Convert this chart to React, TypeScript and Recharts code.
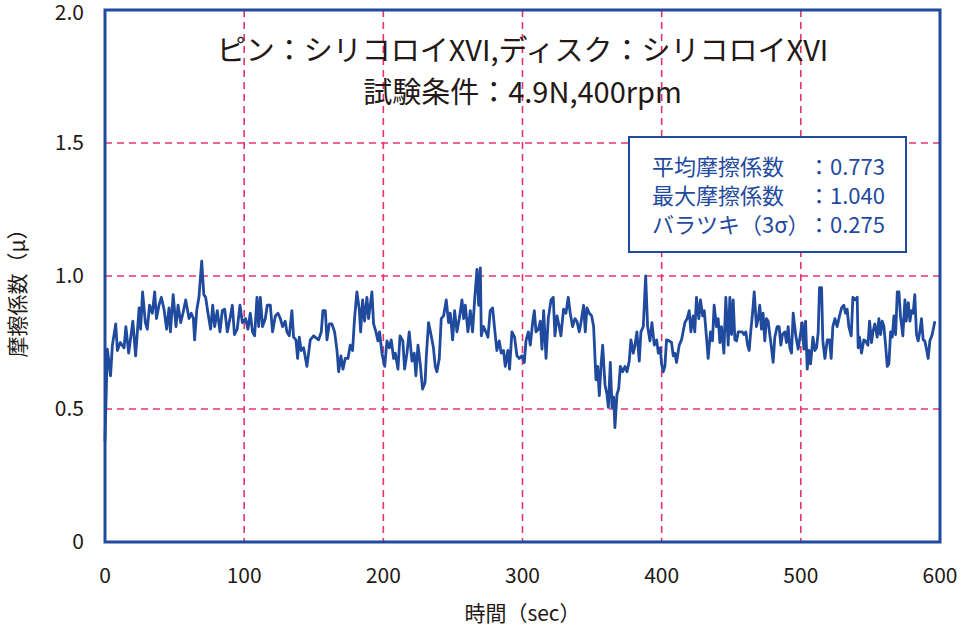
import { LineChart, Line, XAxis, YAxis, CartesianGrid, ReferenceArea, Label } from "recharts";

document.body.style.margin = "0";

const FONT = '"Noto Sans CJK JP", "Noto Sans", sans-serif';
const BLUE = "#1f4a9e";
const PINK = "#e8336d";
const INK = "#231815";

const titleLines = ["ピン：シリコロイXVI,ディスク：シリコロイXVI", "試験条件：4.9N,400rpm"];
const statLabels = ["平均摩擦係数", "最大摩擦係数", "バラツキ（3σ）"];
const statValues = ["0.773", "1.040", "0.275"];

const xTicks = [0, 100, 200, 300, 400, 500, 600];
const yTicks = [0, 0.5, 1.0, 1.5, 2.0];
const xGrid = [100, 200, 300, 400, 500];
const yGrid = [0.5, 1.0, 1.5];

// time (sec) and friction coefficient
const seconds = [
  0, 1.7, 4, 5.3, 7.7, 8.9, 11, 13.7, 15, 17, 20, 22, 24.5, 25.6, 27, 29, 30.4, 32, 34, 35.7,
  37, 38.8, 40.5, 42.4, 44.3, 46, 47, 49, 51, 52.5, 54.4, 56, 58, 60.4, 62, 63.5, 64.4, 65.9, 67.5, 69.5,
  71, 72.3, 74, 75.9, 77.4, 78.8, 80.7, 82.6, 84.3, 86, 87.9, 89.8, 91.5, 93, 95, 97, 98.7, 101, 102.7, 104.4,
  106, 107.5, 109.2, 110.4, 111.6, 113.2, 115.2, 116.6, 118.8, 120.4, 122.4, 124.3, 126, 127.6, 129.5, 130.7, 132.4, 134.3, 135.5, 137.2,
  138.4, 139.6, 141, 142.7, 145.1, 147.5, 149.9, 153.5, 155.4, 156.6, 158.3, 159.5, 161.2, 163, 165, 166.7, 167.9, 169.5, 171, 172.6,
  174.6, 176.2, 177.9, 179.3, 181, 182.7, 183.7, 185.1, 186.5, 188.2, 189.4, 191.8, 193, 194.7, 196.1, 197.3, 199, 201, 202.6, 204.3,
  205.7, 207.4, 208.6, 210.5, 212, 214, 215.3, 217, 218.6, 220.6, 222.2, 223.4, 224.9, 226.5, 228.2, 230, 230.9, 232.5, 234.4, 236,
  237.3, 238.5, 240.2, 241.6, 243.3, 245.2, 246.9, 248.1, 249.8, 251.2, 252.9, 254.6, 256.5, 257.7, 258.9, 260.8, 262.5, 264.1, 265.6, 267.3,
  268.5, 269.7, 270.4, 272, 273.7, 275.2, 276.8, 278.5, 280.4, 281.6, 283.3, 284.7, 286.4, 287.6, 289.5, 290.7, 292.4, 294.3, 296, 297.7,
  299.6, 301.3, 302.5, 304.2, 305.6, 307.3, 308.5, 309.7, 311.4, 312.8, 314, 315.2, 316.9, 318.5, 320.5, 322.1, 323.3, 324.8, 326.4, 327.6,
  329.5, 331.2, 332.9, 334.3, 336, 337.7, 339.1, 340.8, 342, 343.9, 345.1, 346.3, 348, 349.7, 351.1, 352.8, 354, 355.2, 356.4, 357.6,
  359.3, 360.7, 361.7, 363.1, 364.3, 365.5, 366.4, 367.9, 369.1, 370.3, 372, 373.6, 375.1, 376.7, 377.9, 379.6, 380.8, 382.2, 383.9, 385.1,
  386.8, 388.5, 389.9, 391.6, 393, 394.7, 396.4, 397.6, 399, 399.9, 401.1, 402.3, 403.5, 405.4, 407.1, 408.3, 409.5, 410.7, 412.6, 414.3,
  416.7, 418.3, 419.8, 421, 422.6, 423.8, 425, 426.7, 427.9, 429.4, 430.6, 432.2, 433.4, 435.1, 436.5, 437.7, 439.4, 440.6, 441.8, 443,
  444.7, 446.1, 447.8, 449, 450.2, 451.4, 452.6, 453.8, 455, 456.2, 457.9, 459.1, 460.5, 461.7, 462.9, 463.8, 465.3, 466.5, 468.1, 469.4,
  470.5, 471.7, 472.9, 474.1, 475.3, 476.5, 477.7, 478.9, 480.1, 481.3, 483, 484.4, 485.6, 486.8, 488.5, 489.7, 490.9, 492.1, 493.3, 494.5,
  496.4, 498.1, 501, 502.2, 503.4, 504.6, 505.8, 507, 508.7, 510.1, 511.3, 512.5, 513.4, 514.9, 515.8, 517.3, 519, 520.6, 521.8, 523,
  524.5, 526.1, 527.8, 529.3, 530.9, 532.1, 533.3, 534.5, 536.2, 537.4, 539.3, 540.5, 541.2, 542.2, 543.6, 545.3, 546.5, 548.2, 549.4, 550.8,
  551.8, 553.2, 554.9, 556.1, 557.3, 558.5, 559.7, 560.9, 562.1, 563.3, 564.5, 565.7, 566.9, 568.1, 569.3, 570.5, 571.6, 573.3, 574.8, 575.7,
  577.2, 578.4, 579.5, 580.7, 581.9, 583.1, 584.3, 585.5, 586.7, 587.9, 589.1, 590.3, 591.5, 592.7, 594.4, 596.3,
];

const friction = [
  0.38, 0.725, 0.625, 0.74, 0.82, 0.72, 0.75, 0.73, 0.81, 0.71, 0.83, 0.7, 0.88, 0.8, 0.94, 0.825, 0.8, 0.89, 0.86, 0.94,
  0.84, 0.89, 0.92, 0.875, 0.8, 0.88, 0.79, 0.93, 0.81, 0.89, 0.825, 0.86, 0.91, 0.84, 0.86, 0.84, 0.76, 0.87, 0.92, 1.056,
  0.93, 0.92, 0.86, 0.8, 0.89, 0.81, 0.87, 0.79, 0.87, 0.875, 0.79, 0.84, 0.89, 0.78, 0.8, 0.89, 0.825, 0.84, 0.8, 0.86,
  0.79, 0.775, 0.92, 0.81, 0.92, 0.81, 0.84, 0.89, 0.89, 0.79, 0.85, 0.86, 0.84, 0.81, 0.83, 0.79, 0.775, 0.87, 0.77, 0.76,
  0.69, 0.77, 0.72, 0.73, 0.66, 0.76, 0.775, 0.76, 0.79, 0.87, 0.87, 0.76, 0.82, 0.82, 0.79, 0.72, 0.64, 0.7, 0.65, 0.69,
  0.69, 0.74, 0.72, 0.84, 0.94, 0.875, 0.79, 0.91, 0.83, 0.92, 0.84, 0.94, 0.82, 0.79, 0.756, 0.79, 0.71, 0.66, 0.756, 0.73,
  0.76, 0.69, 0.71, 0.65, 0.775, 0.756, 0.65, 0.71, 0.79, 0.68, 0.71, 0.625, 0.74, 0.67, 0.575, 0.6, 0.7, 0.825, 0.775, 0.73,
  0.66, 0.64, 0.69, 0.84, 0.85, 0.91, 0.825, 0.86, 0.76, 0.87, 0.79, 0.84, 0.91, 0.84, 0.89, 0.79, 0.87, 0.79, 0.91, 1.025,
  0.89, 1.03, 0.775, 0.81, 0.79, 0.77, 0.87, 0.88, 0.78, 0.72, 0.756, 0.71, 0.72, 0.66, 0.72, 0.65, 0.79, 0.77, 0.7, 0.69,
  0.7, 0.675, 0.756, 0.79, 0.74, 0.825, 0.87, 0.79, 0.8, 0.83, 0.725, 0.87, 0.69, 0.84, 0.91, 0.92, 0.775, 0.85, 0.81, 0.775,
  0.875, 0.86, 0.92, 0.86, 0.81, 0.84, 0.83, 0.79, 0.825, 0.89, 0.79, 0.88, 0.86, 0.85, 0.81, 0.61, 0.66, 0.55, 0.66, 0.74,
  0.59, 0.556, 0.506, 0.675, 0.506, 0.545, 0.43, 0.556, 0.575, 0.66, 0.64, 0.66, 0.64, 0.68, 0.76, 0.71, 0.74, 0.79, 0.68, 0.79,
  0.81, 1.0, 0.81, 0.756, 0.825, 0.74, 0.76, 0.71, 0.73, 0.67, 0.64, 0.66, 0.76, 0.756, 0.75, 0.7, 0.71, 0.675, 0.74, 0.76,
  0.825, 0.84, 0.87, 0.79, 0.85, 0.79, 0.92, 0.84, 0.91, 0.85, 0.87, 0.77, 0.69, 0.79, 0.756, 0.89, 0.81, 0.84, 0.75, 0.81,
  0.71, 0.92, 0.74, 0.92, 0.78, 0.91, 0.76, 0.756, 0.79, 0.79, 0.79, 0.78, 0.79, 0.74, 0.72, 0.78, 0.86, 0.94, 0.81, 0.84,
  0.89, 0.8, 0.86, 0.756, 0.84, 0.83, 0.78, 0.73, 0.675, 0.77, 0.81, 0.81, 0.74, 0.78, 0.79, 0.75, 0.81, 0.73, 0.71, 0.86,
  0.775, 0.725, 0.825, 0.725, 0.83, 0.65, 0.72, 0.67, 0.77, 0.72, 0.73, 0.79, 0.956, 0.956, 0.756, 0.69, 0.76, 0.76, 0.69, 0.81,
  0.84, 0.81, 0.85, 0.88, 0.89, 0.86, 0.875, 0.81, 0.775, 0.92, 0.91, 0.92, 0.73, 0.77, 0.71, 0.76, 0.756, 0.74, 0.83, 0.75,
  0.79, 0.82, 0.77, 0.84, 0.78, 0.83, 0.81, 0.74, 0.66, 0.67, 0.79, 0.77, 0.85, 0.78, 0.94, 0.94, 0.85, 0.775, 0.91, 0.83,
  0.9, 0.83, 0.87, 0.86, 0.93, 0.78, 0.756, 0.79, 0.84, 0.76, 0.756, 0.725, 0.69, 0.756, 0.78, 0.83,
];

const data = seconds.map((t, i) => ({ t, mu: friction[i] }));

const tickStyle = { fill: INK, fontSize: 21, fontFamily: FONT };

export default function App() {
  return (
    <div style={{ position: "relative", width: 962, height: 628, fontFamily: FONT, background: "#fff" }}>
      <LineChart width={962} height={628} data={data} margin={{ top: 10, right: 22, bottom: 0, left: 0 }}>
        <CartesianGrid
          horizontalValues={yGrid}
          verticalValues={xGrid}
          stroke={PINK}
          strokeWidth={1.6}
          strokeDasharray="7 5"
        />
        <XAxis
          type="number"
          dataKey="t"
          domain={[0, 600]}
          ticks={xTicks}
          height={86}
          axisLine={false}
          tickLine={false}
          tickSize={0}
          tickMargin={26}
          tick={tickStyle}
        >
          <Label
            value="時間（sec）"
            position="insideBottom"
            offset={7}
            style={{ fill: INK, fontSize: 21, fontFamily: FONT }}
          />
        </XAxis>
        <YAxis
          type="number"
          domain={[0, 2]}
          ticks={yTicks}
          width={105}
          axisLine={false}
          tickLine={false}
          tickSize={0}
          tickMargin={21}
          tick={tickStyle}
          tickFormatter={(v: number) => (v === 0 ? "0" : v.toFixed(1))}
        >
          <Label
            value="摩擦係数（μ）"
            angle={-90}
            position="insideLeft"
            offset={18}
            dy={12}
            style={{ fill: INK, fontSize: 21, fontFamily: FONT, textAnchor: "middle" }}
          />
        </YAxis>
        <Line
          type="linear"
          dataKey="mu"
          stroke={BLUE}
          strokeWidth={2.8}
          strokeLinejoin="round"
          dot={false}
          isAnimationActive={false}
        />
        <ReferenceArea x1={0} x2={600} y1={0} y2={2} fill="none" stroke={BLUE} strokeWidth={3} fillOpacity={0} />
      </LineChart>

      {/* title */}
      <div
        style={{
          position: "absolute",
          left: 105,
          width: 835,
          top: 27,
          textAlign: "center",
          color: INK,
          fontSize: 29,
          lineHeight: "42px",
        }}
      >
        {titleLines.map((s) => (
          <div key={s}>{s}</div>
        ))}
      </div>

      {/* statistics box */}
      <div
        style={{
          position: "absolute",
          left: 628,
          top: 136,
          width: 275,
          height: 113,
          border: `2px solid ${BLUE}`,
          background: "#fff",
          color: BLUE,
          fontSize: 22,
          lineHeight: "29px",
          boxSizing: "content-box",
        }}
      >
        <div style={{ paddingTop: 13, paddingLeft: 22 }}>
          {statLabels.map((lab, i) => (
            <div key={lab} style={{ display: "flex", whiteSpace: "nowrap" }}>
              <span style={{ display: "inline-block", width: 156 }}>{lab}</span>
              <span>：{statValues[i]}</span>
            </div>
          ))}
        </div>
      </div>
    </div>
  );
}
